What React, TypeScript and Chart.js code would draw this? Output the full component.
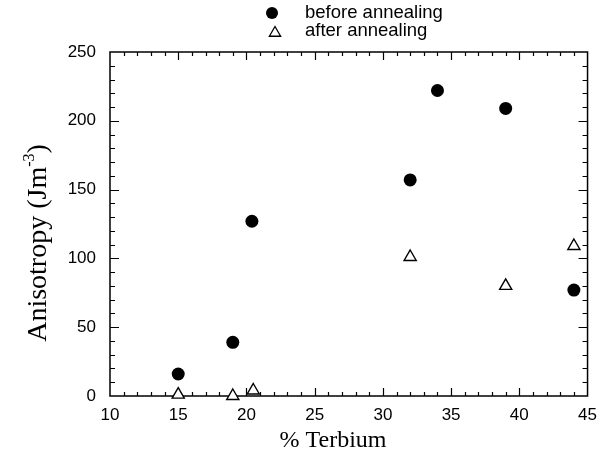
import React, { useEffect, useRef } from 'react';
import { Chart, registerables } from 'chart.js';

Chart.register(...registerables);

// ---- data ----
const beforeX = [15, 19, 20.4, 32, 34, 39, 44];
const beforeY = [16, 39, 127, 157, 222, 209, 77];
const afterX = [15, 19, 20.5, 32, 39, 44];
const afterY = [1, 0, 4, 101, 80, 109];
const seriesLabels = ['before annealing', 'after annealing'];
const xTitle = '% Terbium';
const yTitleMain = 'Anisotropy (Jm';
const yTitleSup = '-3';
const yTitleEnd = ')';
const xRange = [10, 45];
const yRange = [0, 250];
const xMajorStep = 5;
const xMinorStep = 1;
const yMajorStep = 50;
const yMinorStep = 10;

const SANS = '"Liberation Sans", Arial, Helvetica, sans-serif';
const SERIF = '"Liberation Serif", "Times New Roman", Times, serif';

function drawTriangle(ctx: CanvasRenderingContext2D, x: number, y: number, r: number) {
  ctx.beginPath();
  for (let i = 0; i < 3; i++) {
    const a = (i * 2 * Math.PI) / 3;
    const px = x + Math.sin(a) * r;
    const py = y - Math.cos(a) * r;
    if (i === 0) ctx.moveTo(px, py);
    else ctx.lineTo(px, py);
  }
  ctx.closePath();
  ctx.fillStyle = '#fff';
  ctx.fill();
  ctx.stroke();
}

const framePlugin = {
  id: 'frameTicks',
  beforeDatasetsDraw(chart: any) {
    const { ctx, chartArea: a, scales } = chart;
    const x = scales.x;
    const y = scales.y;
    ctx.save();
    ctx.strokeStyle = '#000';
    ctx.lineWidth = 1.5;
    ctx.strokeRect(a.left, a.top, a.right - a.left, a.bottom - a.top);
    ctx.lineWidth = 1.2;
    ctx.beginPath();
    for (let v = x.min; v <= x.max + 1e-9; v += xMinorStep) {
      if (v === x.min || v === x.max) continue;
      const px = Math.round(x.getPixelForValue(v)) + 0.5;
      const len = Math.abs(v % xMajorStep) < 1e-9 ? 8 : 4;
      ctx.moveTo(px, a.bottom);
      ctx.lineTo(px, a.bottom - len);
      ctx.moveTo(px, a.top);
      ctx.lineTo(px, a.top + len);
    }
    for (let v = y.min; v <= y.max + 1e-9; v += yMinorStep) {
      if (v === y.min || v === y.max) continue;
      const py = Math.round(y.getPixelForValue(v)) + 0.5;
      const len = Math.abs(v % yMajorStep) < 1e-9 ? 9 : 5;
      ctx.moveTo(a.left, py);
      ctx.lineTo(a.left + len, py);
      ctx.moveTo(a.right, py);
      ctx.lineTo(a.right - len, py);
    }
    ctx.stroke();
    ctx.restore();
  },
  afterDraw(chart: any) {
    const { ctx } = chart;
    ctx.save();
    ctx.fillStyle = '#000';
    // x title
    ctx.font = `24px ${SERIF}`;
    ctx.textAlign = 'center';
    ctx.textBaseline = 'middle';
    ctx.fillText(xTitle, 333, 441);
    // y title with superscript
    const mainFont = `28px ${SERIF}`;
    const supFont = `16px ${SERIF}`;
    ctx.font = mainFont;
    const w1 = ctx.measureText(yTitleMain).width;
    const w3 = ctx.measureText(yTitleEnd).width;
    ctx.font = supFont;
    const w2 = ctx.measureText(yTitleSup).width;
    const total = w1 + w2 + w3;
    ctx.translate(37, 243);
    ctx.rotate(-Math.PI / 2);
    ctx.textAlign = 'left';
    ctx.textBaseline = 'alphabetic';
    let cx = -total / 2;
    ctx.font = mainFont;
    ctx.fillText(yTitleMain, cx, 9);
    cx += w1;
    ctx.font = supFont;
    ctx.fillText(yTitleSup, cx, -3);
    cx += w2;
    ctx.font = mainFont;
    ctx.fillText(yTitleEnd, cx, 9);
    ctx.restore();

    // legend
    ctx.save();
    ctx.fillStyle = '#000';
    ctx.strokeStyle = '#000';
    ctx.lineWidth = 1.3;
    ctx.beginPath();
    ctx.arc(272, 13, 6, 0, Math.PI * 2);
    ctx.fill();
    drawTriangle(ctx, 275, 33, 6.5);
    ctx.fillStyle = '#000';
    ctx.font = `18.5px ${SANS}`;
    ctx.textAlign = 'left';
    ctx.textBaseline = 'middle';
    ctx.fillText(seriesLabels[0], 305, 13);
    ctx.fillText(seriesLabels[1], 305, 31);
    ctx.restore();
  },
};

export default function App() {
  const ref = useRef<HTMLCanvasElement | null>(null);
  useEffect(() => {
    if (!ref.current) return;
    const chart = new Chart(ref.current, {
      type: 'scatter',
      data: {
        datasets: [
          {
            label: seriesLabels[0],
            data: beforeX.map((x, i) => ({ x, y: beforeY[i] })),
            pointStyle: 'circle',
            pointRadius: 6.5,
            pointBackgroundColor: '#000',
            pointBorderColor: '#000',
            pointBorderWidth: 0,
            clip: false,
          },
          {
            label: seriesLabels[1],
            data: afterX.map((x, i) => ({ x, y: afterY[i] })),
            pointStyle: 'triangle',
            pointRadius: 7,
            pointBackgroundColor: '#fff',
            pointBorderColor: '#000',
            pointBorderWidth: 1.4,
            clip: false,
          },
        ],
      },
      options: {
        responsive: false,
        animation: false,
        events: [],
        layout: { padding: { top: 52, right: 17, left: 0, bottom: 0 } },
        plugins: {
          legend: { display: false },
          tooltip: { enabled: false },
          title: { display: false },
        },
        scales: {
          x: {
            type: 'linear',
            min: xRange[0],
            max: xRange[1],
            grid: { display: false, drawTicks: false, tickLength: 0 },
            border: { display: false },
            ticks: {
              stepSize: xMajorStep,
              color: '#000',
              padding: 9,
              font: { family: SANS, size: 17 },
              maxRotation: 0,
            },
            afterFit: (s: any) => {
              s.height = 67;
            },
          },
          y: {
            type: 'linear',
            min: yRange[0],
            max: yRange[1],
            grid: { display: false, drawTicks: false, tickLength: 0 },
            border: { display: false },
            ticks: {
              stepSize: yMajorStep,
              color: '#000',
              padding: 14,
              font: { family: SANS, size: 17 },
            },
            afterFit: (s: any) => {
              s.width = 110;
            },
          },
        },
      },
      plugins: [framePlugin],
    });
    return () => chart.destroy();
  }, []);
  return (
    <div style={{ position: 'absolute', left: 0, top: 0, width: 606, height: 463, background: '#fff' }}>
      <canvas ref={ref} width={606} height={463} />
    </div>
  );
}
